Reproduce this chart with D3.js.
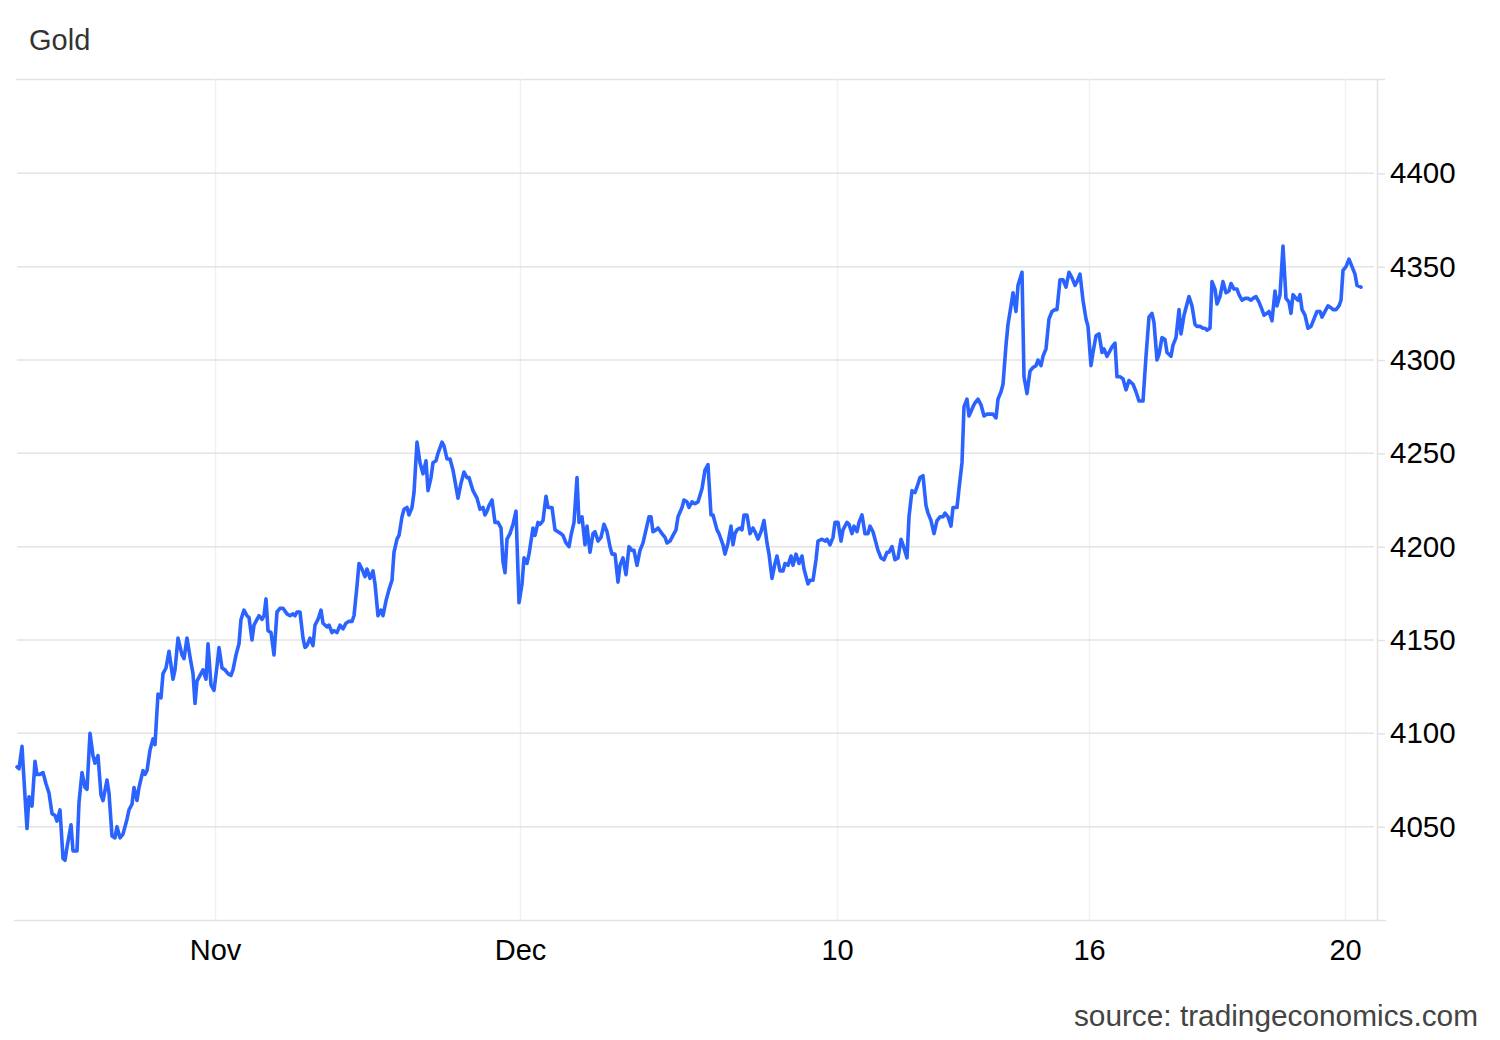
<!DOCTYPE html>
<html>
<head>
<meta charset="utf-8">
<script src="https://cdn.jsdelivr.net/npm/d3@7"></script>
<style>
  html, body { margin: 0; padding: 0; background: #fff; }
  svg { display: block; }
</style>
</head>
<body>
<script>
// ---- data ----
const title = "Gold";
const source = "source: tradingeconomics.com";

// position of each observation along the (session-compressed) time axis
const pos = [
  0,2,5,7,10,12,15,18,20,23,
  26,29,32,35,38,40,43,46,48,50,
  54,56,60,62,65,68,70,73,76,78,
  81,84,86,90,92,95,98,100,103,106,
  110,112,115,117,120,122,126,128,130,133,
  136,138,141,144,146,149,152,156,158,161,
  165,167,170,173,176,178,180,183,186,189,
  191,194,197,200,202,205,208,211,214,216,
  219,222,224,227,230,232,235,237,240,242,
  245,247,249,251,254,257,260,263,266,270,
  273,276,278,280,283,286,288,290,293,296,
  298,301,304,306,310,312,315,317,320,323,
  326,329,332,335,337,340,342,345,348,350,
  353,356,358,361,364,366,369,372,375,377,
  380,382,385,387,390,392,395,397,400,403,
  406,409,411,414,416,419,421,425,427,430,
  433,436,439,441,444,447,450,452,456,458,
  460,463,466,468,470,472,475,478,481,484,
  486,488,490,493,496,499,502,505,507,510,
  512,516,518,521,523,526,529,531,535,538,
  541,544,546,549,552,554,557,560,562,565,
  568,570,573,576,578,581,584,587,590,593,
  595,598,601,603,606,609,612,615,617,620,
  623,626,629,632,634,636,639,641,645,648,
  650,653,656,659,661,665,667,670,672,675,
  678,681,685,688,691,694,696,700,702,706,
  708,711,714,716,718,720,723,725,727,730,
  733,736,738,741,744,747,750,752,755,758,
  760,763,766,768,771,774,776,779,782,785,
  787,791,793,796,799,801,805,808,810,813,
  816,818,821,824,826,830,832,835,837,840,
  842,845,848,851,853,856,858,861,864,867,
  870,872,875,878,881,884,886,890,892,895,
  898,900,903,906,909,911,914,917,920,923,
  926,928,931,934,936,940,942,945,947,950,
  952,956,958,961,964,967,970,973,976,979,
  981,984,986,989,991,994,996,999,1001,1005,
  1007,1010,1013,1016,1019,1021,1024,1026,1029,1032,
  1035,1038,1040,1043,1046,1049,1052,1055,1058,1060,
  1063,1066,1069,1071,1074,1076,1079,1082,1085,1087,
  1090,1092,1095,1098,1100,1103,1106,1109,1112,1116,
  1119,1122,1126,1129,1132,1135,1137,1140,1142,1145,
  1148,1150,1154,1156,1159,1162,1164,1167,1170,1172,
  1175,1178,1180,1183,1186,1188,1190,1193,1195,1198,
  1200,1203,1206,1209,1212,1214,1217,1220,1222,1225,
  1228,1231,1234,1236,1239,1242,1245,1247,1250,1252,
  1255,1258,1260,1263,1266,1269,1272,1274,1276,1279,
  1281,1283,1285,1288,1291,1294,1297,1300,1303,1305,
  1308,1311,1314,1316,1319,1322,1324,1326,1329,1332,
  1335,1338,1340,1344
];

// gold price, USD/t.oz
const price = [
  4082,4081,4093,4075,4049,4066,4061,4085,4078,4078,
  4079,4073,4068,4057,4056,4053,4059,4033,4032,4039,
  4051,4037,4037,4063,4079,4071,4070,4100,4088,4084,
  4088,4067,4064,4075,4068,4045,4044,4050,4044,4046,
  4054,4059,4062,4071,4064,4071,4080,4078,4080,4091,
  4097,4094,4121,4119,4132,4135,4144,4129,4134,4151,
  4142,4140,4151,4141,4132,4116,4128,4131,4134,4129,
  4148,4126,4123,4136,4146,4135,4134,4132,4131,4134,
  4142,4148,4161,4166,4163,4162,4150,4158,4161,4163,
  4161,4163,4172,4155,4154,4142,4165,4167,4167,4164,
  4163,4164,4163,4165,4165,4151,4146,4147,4151,4147,
  4158,4161,4166,4159,4157,4158,4154,4155,4154,4158,
  4156,4159,4160,4160,4163,4179,4191,4188,4184,4188,
  4183,4187,4180,4163,4166,4163,4171,4177,4182,4197,
  4204,4206,4216,4220,4221,4217,4221,4229,4256,4245,
  4239,4246,4230,4237,4245,4246,4250,4256,4254,4247,
  4247,4241,4232,4226,4234,4240,4237,4237,4230,4228,
  4226,4220,4221,4217,4219,4222,4225,4213,4213,4210,
  4192,4186,4204,4207,4212,4219,4170,4180,4194,4191,
  4196,4210,4206,4213,4212,4214,4227,4221,4221,4209,
  4208,4207,4206,4202,4200,4206,4213,4237,4213,4216,
  4201,4211,4197,4207,4208,4203,4205,4212,4208,4200,
  4196,4196,4181,4190,4194,4185,4200,4198,4198,4190,
  4198,4202,4209,4216,4216,4208,4209,4210,4207,4205,
  4202,4203,4206,4209,4216,4221,4225,4224,4221,4224,
  4223,4224,4231,4241,4244,4217,4217,4209,4207,4201,
  4196,4202,4211,4201,4207,4209,4210,4209,4217,4217,
  4207,4210,4208,4204,4208,4214,4202,4196,4183,4191,
  4195,4187,4187,4191,4190,4195,4190,4196,4191,4195,
  4188,4180,4182,4182,4193,4203,4204,4203,4204,4201,
  4205,4213,4213,4203,4209,4213,4212,4207,4211,4208,
  4213,4217,4207,4207,4211,4208,4204,4198,4194,4193,
  4197,4197,4200,4193,4194,4204,4201,4194,4216,4230,
  4229,4232,4237,4238,4222,4218,4214,4207,4214,4216,
  4216,4218,4216,4211,4221,4221,4231,4245,4275,4279,
  4270,4275,4277,4279,4276,4270,4271,4271,4271,4269,
  4279,4283,4287,4308,4319,4329,4336,4326,4340,4347,
  4291,4282,4294,4296,4297,4300,4297,4302,4306,4322,
  4326,4327,4327,4343,4343,4339,4347,4344,4340,4342,
  4346,4332,4322,4318,4297,4304,4313,4314,4304,4306,
  4302,4304,4307,4309,4291,4291,4290,4284,4289,4287,
  4283,4278,4278,4302,4323,4325,4320,4300,4303,4312,
  4311,4304,4302,4308,4312,4327,4314,4324,4330,4334,
  4329,4319,4318,4318,4317,4317,4316,4317,4342,4338,
  4330,4334,4342,4336,4337,4341,4338,4338,4335,4332,
  4333,4333,4332,4333,4334,4331,4327,4324,4325,4326,
  4321,4337,4329,4335,4361,4333,4331,4325,4335,4333,
  4332,4335,4327,4324,4317,4318,4322,4326,4326,4323,
  4326,4329,4328,4327,4327,4329,4332,4348,4350,4354,
  4350,4346,4340,4339
];

const xTickPos = [198, 503, 820, 1072, 1328];
const xTickLabels = ["Nov", "Dec", "10", "16", "20"];
const yTickValues = [4050, 4100, 4150, 4200, 4250, 4300, 4350, 4400];

// ---- drawing ----
const W = 1500, H = 1040;
const FONT = "'Liberation Sans', Arial, Helvetica, sans-serif";
const LEFT = 17, RIGHT = 1377, TOP = 79, BOTTOM = 920;

const svg = d3.select("body").append("svg")
  .attr("width", W).attr("height", H)
  .style("background", "#fff");

const x = d3.scaleLinear().domain([0, 1360]).range([LEFT, RIGHT]);
const y = d3.scaleLinear().domain([4000, 4450]).range([BOTTOM, 80]);

// title
svg.append("text")
  .attr("x", 29).attr("y", 50)
  .attr("font-family", FONT).attr("font-size", 29)
  .attr("fill", "#333")
  .text(title);

// top frame line
svg.append("line")
  .attr("x1", 16).attr("x2", 1385).attr("y1", TOP + 0.5).attr("y2", TOP + 0.5)
  .attr("stroke", "#e3e3e3").attr("stroke-width", 1.5);

// vertical grid lines
svg.append("g").selectAll("line").data(xTickPos).join("line")
  .attr("x1", d => Math.round(x(d)) + 0.5).attr("x2", d => Math.round(x(d)) + 0.5)
  .attr("y1", TOP).attr("y2", BOTTOM)
  .attr("stroke", "#edf1f6").attr("stroke-width", 1.5);

// horizontal grid lines
svg.append("g").selectAll("line").data(yTickValues).join("line")
  .attr("x1", LEFT).attr("x2", RIGHT - 3)
  .attr("y1", d => y(d)).attr("y2", d => y(d))
  .attr("stroke", "#e3e3e3").attr("stroke-width", 1.5);

// bottom line
svg.append("line")
  .attr("x1", 14).attr("x2", 1386).attr("y1", BOTTOM + 0.5).attr("y2", BOTTOM + 0.5)
  .attr("stroke", "#e3e3e3").attr("stroke-width", 1.5);

// right axis
const yAxis = d3.axisRight(y).tickValues(yTickValues).tickSize(8).tickPadding(5)
  .tickFormat(d3.format("d"));
const gy = svg.append("g").attr("transform", `translate(${RIGHT},0)`).call(yAxis);
gy.select(".domain").attr("d", `M0.5,${TOP}V${BOTTOM + 1}`)
  .attr("stroke", "#e3e3e3").attr("stroke-width", 1.5);
gy.selectAll(".tick line").attr("stroke", "#e3e3e3").attr("stroke-width", 1.5);
gy.selectAll(".tick text")
  .attr("font-family", FONT).attr("font-size", 29.5).attr("fill", "#000");

// bottom axis labels
const xAxis = d3.axisBottom(x).tickValues(xTickPos)
  .tickFormat((d, i) => xTickLabels[i]).tickSize(0).tickPadding(19);
const gx = svg.append("g").attr("transform", `translate(0,${BOTTOM})`).call(xAxis);
gx.select(".domain").remove();
gx.selectAll(".tick text")
  .attr("font-family", FONT).attr("font-size", 29).attr("fill", "#000");

// price line
const line = d3.line()
  .x((d, i) => x(pos[i]))
  .y(d => y(d));
svg.append("path")
  .datum(price)
  .attr("d", line)
  .attr("fill", "none")
  .attr("stroke", "#2b63ff")
  .attr("stroke-width", 3.6)
  .attr("stroke-linejoin", "round")
  .attr("stroke-linecap", "round");

// source
svg.append("text")
  .attr("x", 1478).attr("y", 1026)
  .attr("text-anchor", "end")
  .attr("font-family", FONT).attr("font-size", 29.8)
  .attr("fill", "#444")
  .text(source);
</script>
</body>
</html>
